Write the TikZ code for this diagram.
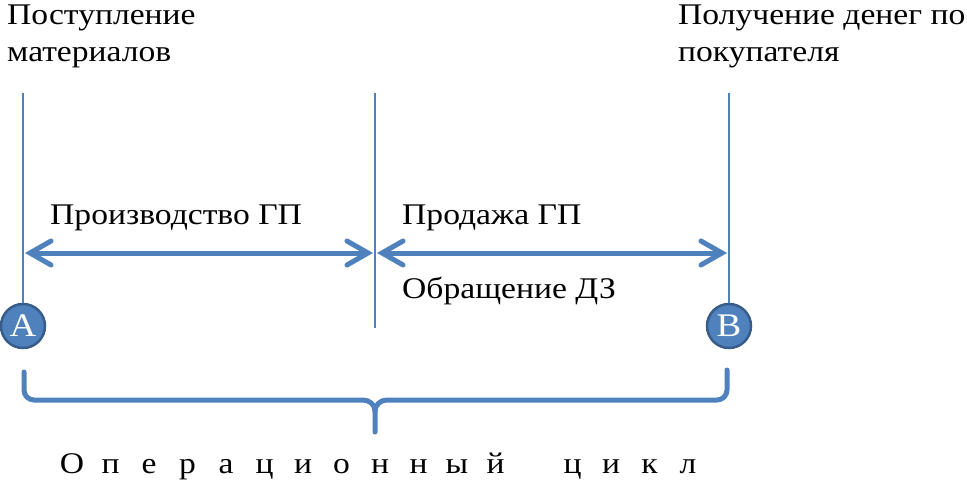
\documentclass[tikz,border=0pt]{standalone}
\usepackage{fontspec}
\setmainfont[FakeStretch=1.12]{Liberation Serif}
\usetikzlibrary{arrows.meta}
\definecolor{accent}{HTML}{4F81BD}
\definecolor{accentdark}{HTML}{385D8A}
\begin{document}
\begin{tikzpicture}[x=1pt,y=-1pt,
  lbl/.style={anchor=base west,inner sep=0pt,font=\fontsize{30}{36}\selectfont},
  letter/.style={anchor=base,inner sep=0pt,font=\fontsize{30}{36}\selectfont},
  thinline/.style={draw=accent,line width=1.3pt},
  bigarrow/.style={draw=accent,line width=5pt,{Straight Barb[length=21pt,width=24pt,line cap=round]}-{Straight Barb[length=21pt,width=24pt,line cap=round]},shorten <=2pt,shorten >=2pt},
  bracestyle/.style={draw=accent,line width=5pt,line cap=round,line join=round},
  point/.style={circle,fill=accent,draw=accentdark,line width=2.5pt,minimum size=44pt,inner sep=0pt,text=white,font=\fontsize{33}{34}\selectfont}]
\useasboundingbox (0,0) rectangle (967,484);
% labels
\node[lbl] (lm1) at (7,25) {Поступление};
\node[lbl] (lm2) at (7,62) {материалов};
\node[lbl] (lr1) at (678,25) {Получение денег по};
\node[lbl] (lr2) at (678,62) {покупателя};
\node[lbl] (prod) at (50,225) {Производство ГП};
\node[lbl] (sale) at (402,225) {Продажа ГП};
\node[lbl] (turn) at (402,298) {Обращение ДЗ};
% points
\node[point] (A) at (23,326) {A};
\node[point] (B) at (729,326) {B};
% vertical lines
\coordinate (topA) at (23,93);
\coordinate (topM) at (375,93);
\coordinate (botM) at (375,328);
\coordinate (topB) at (729,93);
\draw[thinline] (topA) -- (A.north);
\draw[thinline] (topM) -- (botM);
\draw[thinline] (topB) -- (B.north);
% arrows
\coordinate (pA) at (23,253);
\coordinate (pM) at (375,253);
\coordinate (pB) at (729,253);
\draw[bigarrow] (pA) -- (pM);
\draw[bigarrow] (pM) -- (pB);
% brace
\coordinate (brL) at (24,372);
\coordinate (brM) at (375,432);
\coordinate (brR) at (727,370);
\draw[bracestyle] (brL) -- (24,390) to[out=-90,in=180] (34,400) -- (363,400)
  to[out=0,in=90] (375,411) -- (brM);
\draw[bracestyle] (375,411) to[out=90,in=180] (387,400) -- (717,400)
  to[out=0,in=-90] (727,390) -- (brR);
% bottom text
\foreach \ch [count=\i from 0] in {О,п,е,р,а,ц,и,о,н,н,ы,й}
  \node[letter] (c\i) at ({72+38.5*\i},473) {\ch};
\foreach \ch [count=\i from 13] in {ц,и,к,л}
  \node[letter] (c\i) at ({72+38.5*\i},473) {\ch};
\end{tikzpicture}
\end{document}
